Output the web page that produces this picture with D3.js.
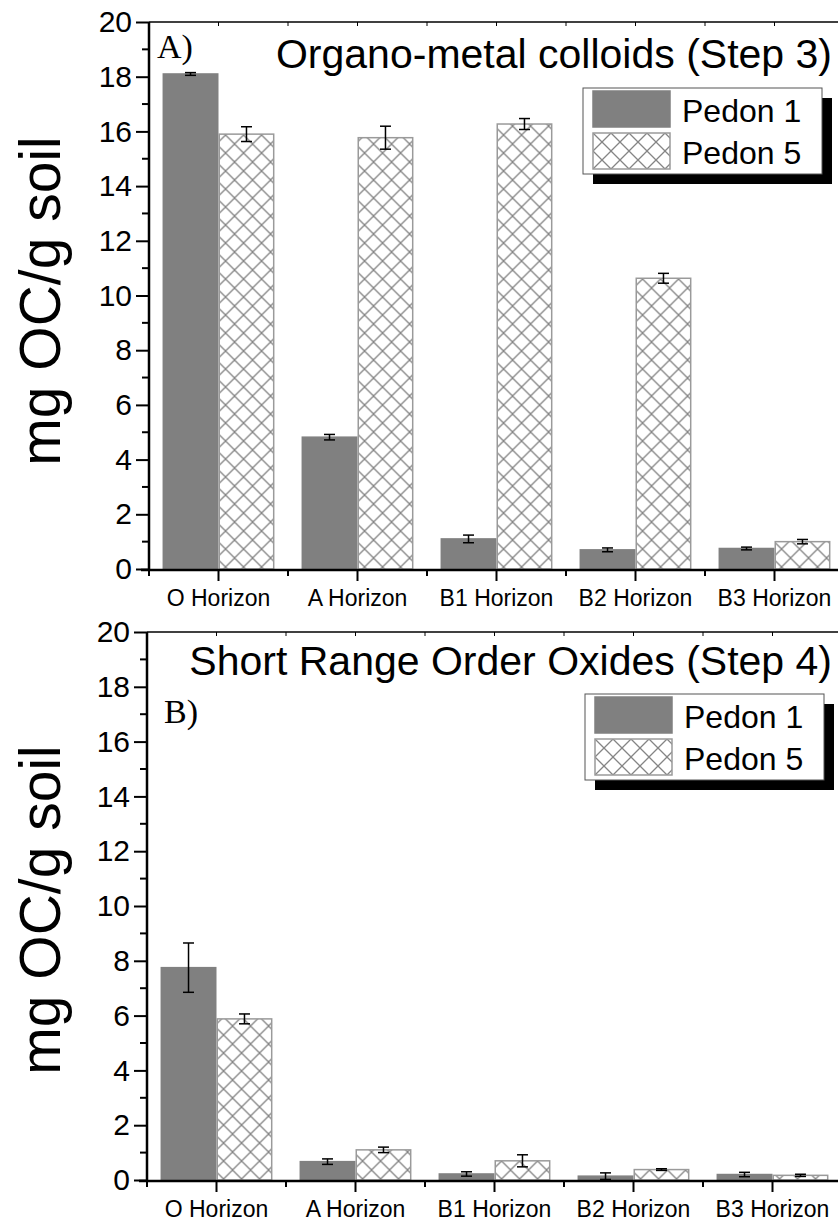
<!DOCTYPE html>
<html>
<head>
<meta charset="utf-8">
<script src="https://cdn.jsdelivr.net/npm/d3@7"></script>
<style>
  html, body { margin: 0; padding: 0; background: #fff; }
  svg { display: block; }
  text { fill: #000; }
</style>
</head>
<body>
<svg id="chart" width="838" height="1221"></svg>
<script>
// Soil horizons (x categories)
const horizons = ["O Horizon", "A Horizon", "B1 Horizon", "B2 Horizon", "B3 Horizon"];
const seriesNames = ["Pedon 1", "Pedon 5"];
const yTicks = [0, 2, 4, 6, 8, 10, 12, 14, 16, 18, 20];

// Step 3: organo-metal colloids (mg OC / g soil) and standard errors
const step3Pedon1 = [18.1, 4.82, 1.1, 0.7, 0.75];
const step3Pedon1Err = [0.05, 0.1, 0.14, 0.07, 0.05];
const step3Pedon5 = [15.9, 15.77, 16.27, 10.63, 1.0];
const step3Pedon5Err = [0.27, 0.42, 0.2, 0.18, 0.08];

// Step 4: short range order oxides (mg OC / g soil) and standard errors
const step4Pedon1 = [7.75, 0.67, 0.22, 0.14, 0.2];
const step4Pedon1Err = [0.9, 0.1, 0.08, 0.12, 0.08];
const step4Pedon5 = [5.88, 1.1, 0.7, 0.38, 0.17];
const step4Pedon5Err = [0.18, 0.1, 0.22, 0.03, 0.04];

const SANS = '"Liberation Sans", Arial, sans-serif';
const SERIF = '"Liberation Serif", "Times New Roman", serif';

const svg = d3.select("#chart");

// Cross-hatch fill used for Pedon 5
const defs = svg.append("defs");
const hatch = defs.append("pattern")
  .attr("id", "crosshatch")
  .attr("patternUnits", "userSpaceOnUse")
  .attr("width", 18).attr("height", 18);
hatch.append("rect").attr("width", 18).attr("height", 18).attr("fill", "#fff");
hatch.append("path")
  .attr("d", "M0,0 L18,18 M18,0 L0,18 M-9,9 L9,27 M9,-9 L27,9 M-9,9 L9,-9 M9,27 L27,9")
  .attr("stroke", "#858585").attr("stroke-width", 1.3).attr("fill", "none");

const fills = ["#808080", "url(#crosshatch)"];
const strokes = ["#808080", "#9a9a9a"];

function drawPanel(cfg) {
  const { left, top, bottom, right, title, titleY, tag, p1, p1e, p5, p5e, labelCY } = cfg;
  const g = svg.append("g");

  const x = d3.scaleBand().domain(horizons)
    .range([left, left + 5 * 139])
    .paddingInner(0.195).paddingOuter(0.0975);
  const xs = d3.scaleBand().domain(seriesNames).range([0, x.bandwidth()]);
  const y = d3.scaleLinear().domain([0, 20]).range([bottom, top]);

  const rows = horizons.map((h, i) => ({
    h,
    vals: [
      { s: seriesNames[0], v: p1[i], e: p1e[i], k: 0 },
      { s: seriesNames[1], v: p5[i], e: p5e[i], k: 1 }
    ]
  }));

  // bars
  const grp = g.selectAll("g.cat").data(rows).join("g")
    .attr("transform", d => `translate(${x(d.h)},0)`);
  grp.selectAll("rect").data(d => d.vals).join("rect")
    .attr("x", d => xs(d.s) + 0.75)
    .attr("width", xs.bandwidth() - 1.5)
    .attr("y", d => y(d.v))
    .attr("height", d => y(0) - y(d.v))
    .attr("fill", d => fills[d.k])
    .attr("stroke", d => strokes[d.k])
    .attr("stroke-width", 1.5);

  // error bars
  const eb = grp.selectAll("g.err").data(d => d.vals).join("g")
    .attr("transform", d => `translate(${xs(d.s) + xs.bandwidth() / 2},0)`)
    .attr("stroke", "#000").attr("stroke-width", 1.5);
  eb.append("line").attr("x1", 0).attr("x2", 0)
    .attr("y1", d => y(d.v + d.e)).attr("y2", d => y(d.v - d.e));
  eb.append("line").attr("x1", -5.5).attr("x2", 5.5)
    .attr("y1", d => y(d.v + d.e)).attr("y2", d => y(d.v + d.e));
  eb.append("line").attr("x1", -5.5).attr("x2", 5.5)
    .attr("y1", d => y(d.v - d.e)).attr("y2", d => y(d.v - d.e));

  // left axis: major ticks with labels, minor ticks between
  const yAxis = d3.axisLeft(y).tickValues(yTicks).tickSize(13).tickPadding(4);
  const ya = g.append("g").attr("transform", `translate(${left},0)`).call(yAxis);
  ya.select(".domain").attr("stroke-width", 2.5).attr("d", `M0,${bottom}V${top}`);
  ya.selectAll(".tick line").attr("stroke-width", 2);
  ya.selectAll(".tick text").attr("font-size", 30).style("font-family", SANS);
  const minor = d3.range(1, 20, 2);
  g.append("g").selectAll("line").data(minor).join("line")
    .attr("x1", left - 7).attr("x2", left)
    .attr("y1", d => y(d)).attr("y2", d => y(d))
    .attr("stroke", "#000").attr("stroke-width", 2);

  // bottom axis: major ticks at categories, minor ticks at boundaries
  const xAxis = d3.axisBottom(x).tickSize(11).tickPadding(10);
  const xa = g.append("g").attr("transform", `translate(0,${bottom})`).call(xAxis);
  xa.select(".domain").remove();
  xa.selectAll(".tick line").attr("stroke-width", 2).attr("transform", "translate(0,1)");
  xa.selectAll(".tick text").attr("font-size", 23).style("font-family", SANS);
  g.append("line").attr("x1", left - 8).attr("x2", right)
    .attr("y1", bottom + 1).attr("y2", bottom + 1)
    .attr("stroke", "#000").attr("stroke-width", 2.5);
  const bounds = d3.range(0, 6).map(i => left + i * x.step());
  g.append("g").selectAll("line").data(bounds).join("line")
    .attr("x1", d => d).attr("x2", d => d)
    .attr("y1", bottom + 1).attr("y2", bottom + 7)
    .attr("stroke", "#000").attr("stroke-width", 2);

  // top frame with small inward ticks
  g.append("line").attr("x1", left).attr("x2", right)
    .attr("y1", top).attr("y2", top)
    .attr("stroke", "#000").attr("stroke-width", 1.5);
  const topTicks = horizons.map(h => x(h) + x.bandwidth() / 2).concat(bounds);
  g.append("g").selectAll("line").data(topTicks).join("line")
    .attr("x1", d => d).attr("x2", d => d)
    .attr("y1", top).attr("y2", top + 4)
    .attr("stroke", "#000").attr("stroke-width", 1);

  // y-axis label
  g.append("text")
    .attr("transform", `translate(60,${labelCY}) rotate(-90)`)
    .attr("text-anchor", "middle")
    .attr("font-size", 57)
    .style("font-family", SANS)
    .text("mg OC/g soil");

  // panel title and tag
  g.append("text").attr("x", 832).attr("y", titleY)
    .attr("text-anchor", "end").attr("font-size", 41)
    .style("font-family", SANS).text(title);
  g.append("text").attr("x", cfg.tagX).attr("y", cfg.tagY)
    .style("font-family", SERIF)
    .attr("font-size", 34).text(tag);

  // legend with drop shadow
  const lx = cfg.legX, ly = cfg.legY, lw = 239, lh = 86;
  const leg = g.append("g");
  leg.append("rect").attr("x", lx + 10).attr("y", ly + 10).attr("width", lw).attr("height", lh).attr("fill", "#000");
  leg.append("rect").attr("x", lx).attr("y", ly).attr("width", lw).attr("height", lh)
    .attr("fill", "#fff").attr("stroke", "#555").attr("stroke-width", 1);
  const items = leg.selectAll("g.item").data(seriesNames).join("g")
    .attr("transform", (d, i) => `translate(${lx + 10},${ly + 3 + i * 42})`);
  items.append("rect").attr("width", 77).attr("height", 36)
    .attr("fill", (d, i) => fills[i]).attr("stroke", (d, i) => strokes[i]).attr("stroke-width", 1.5);
  items.append("text").attr("x", 89).attr("y", 31).attr("font-size", 32)
    .style("font-family", SANS).text(d => d);
}

drawPanel({
  left: 149, top: 22, bottom: 569, right: 838,
  title: "Organo-metal colloids (Step 3)", titleY: 68,
  tag: "A)", tagX: 157, tagY: 58,
  p1: step3Pedon1, p1e: step3Pedon1Err, p5: step3Pedon5, p5e: step3Pedon5Err,
  labelCY: 301, legX: 583, legY: 88
});

drawPanel({
  left: 147, top: 632, bottom: 1180, right: 838,
  title: "Short Range Order Oxides (Step 4)", titleY: 675,
  tag: "B)", tagX: 164, tagY: 723,
  p1: step4Pedon1, p1e: step4Pedon1Err, p5: step4Pedon5, p5e: step4Pedon5Err,
  labelCY: 910, legX: 585, legY: 694
});
</script>
</body>
</html>
